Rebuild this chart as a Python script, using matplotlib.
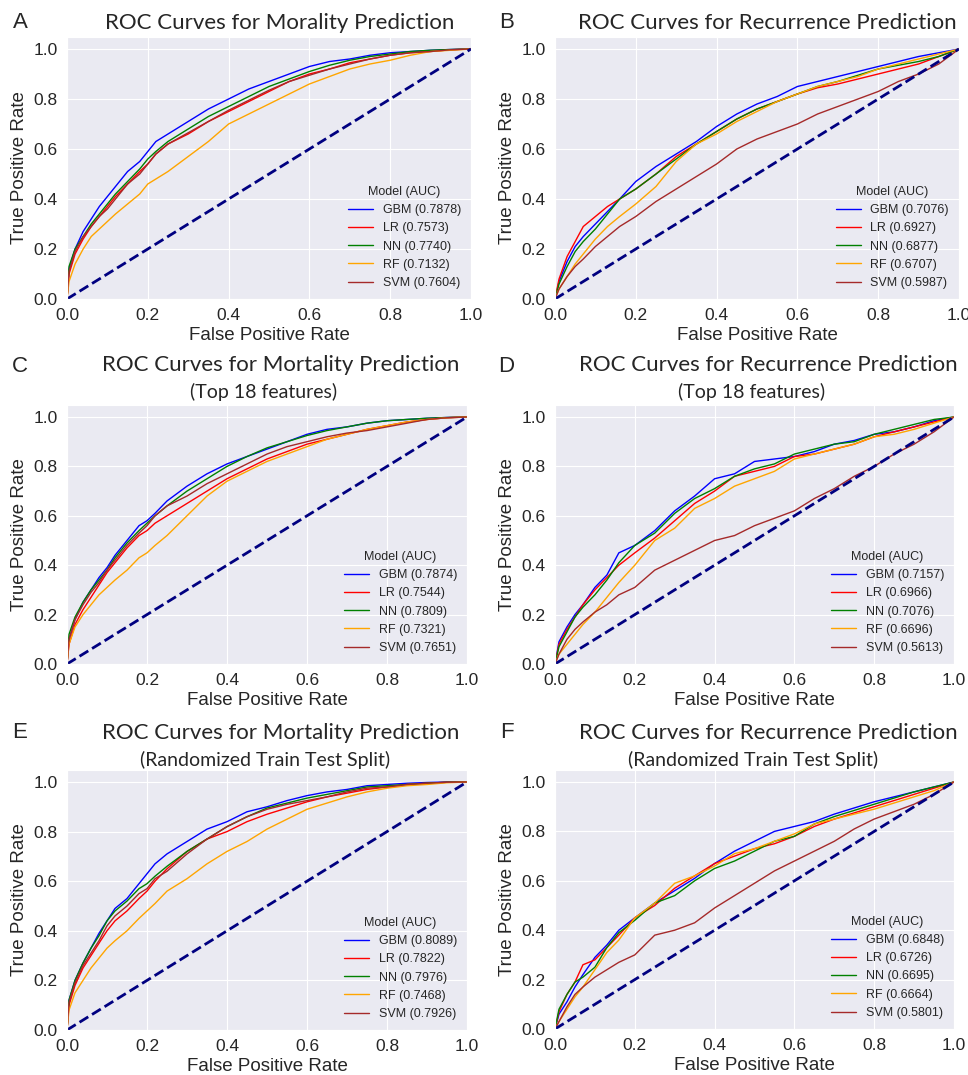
import numpy as np
import matplotlib
matplotlib.use("Agg")
import matplotlib.pyplot as plt
import seaborn as sns

sns.set_style("darkgrid")
plt.rcParams["font.family"] = ["Liberation Sans", "DejaVu Sans"]

models = ["GBM", "LR", "NN", "RF", "SVM"]
colors = ["blue", "red", "green", "orange", "brown"]

# FPR grids the curves were read at
fpr_mort = [0, 0.005, 0.02, 0.04, 0.06, 0.08, 0.1, 0.12, 0.15, 0.18, 0.2, 0.22, 0.25, 0.3,
            0.35, 0.4, 0.45, 0.5, 0.55, 0.6, 0.65, 0.7, 0.75, 0.8, 0.85, 0.9, 0.95, 1.0]
fpr_rec = [0, 0.01, 0.03, 0.05, 0.07, 0.1, 0.13, 0.16, 0.2, 0.25, 0.3, 0.35, 0.4, 0.45,
           0.5, 0.55, 0.6, 0.65, 0.7, 0.75, 0.8, 0.85, 0.9, 0.95, 1.0]

# Panel A - mortality
tpr_a_gbm = [0, 0.12, 0.20, 0.27, 0.32, 0.37, 0.41, 0.45, 0.51, 0.55, 0.59, 0.63, 0.66, 0.71, 0.76, 0.80, 0.84, 0.87, 0.90, 0.93, 0.95, 0.96, 0.975, 0.985, 0.99, 0.995, 0.998, 1]
tpr_a_lr = [0, 0.10, 0.18, 0.24, 0.29, 0.33, 0.37, 0.41, 0.46, 0.51, 0.54, 0.58, 0.62, 0.66, 0.71, 0.75, 0.79, 0.83, 0.87, 0.90, 0.92, 0.945, 0.96, 0.975, 0.985, 0.99, 0.997, 1]
tpr_a_nn = [0, 0.13, 0.20, 0.25, 0.30, 0.34, 0.38, 0.42, 0.47, 0.52, 0.56, 0.59, 0.63, 0.68, 0.73, 0.77, 0.81, 0.85, 0.88, 0.91, 0.935, 0.955, 0.97, 0.98, 0.99, 0.995, 0.998, 1]
tpr_a_rf = [0, 0.07, 0.14, 0.20, 0.25, 0.28, 0.31, 0.34, 0.38, 0.42, 0.46, 0.48, 0.51, 0.57, 0.63, 0.70, 0.74, 0.78, 0.82, 0.86, 0.89, 0.92, 0.94, 0.955, 0.975, 0.99, 0.995, 1]
tpr_a_svm = [0, 0.11, 0.19, 0.25, 0.29, 0.33, 0.36, 0.40, 0.46, 0.50, 0.54, 0.58, 0.62, 0.665, 0.71, 0.755, 0.795, 0.835, 0.87, 0.895, 0.92, 0.94, 0.96, 0.975, 0.985, 0.99, 0.997, 1]
auc_a = [0.7878, 0.7573, 0.7740, 0.7132, 0.7604]

# Panel B - recurrence
tpr_b_gbm = [0, 0.07, 0.15, 0.21, 0.25, 0.30, 0.35, 0.40, 0.47, 0.53, 0.58, 0.63, 0.69, 0.74, 0.78, 0.81, 0.85, 0.87, 0.89, 0.91, 0.93, 0.95, 0.97, 0.985, 1]
tpr_b_lr = [0, 0.08, 0.17, 0.23, 0.29, 0.33, 0.37, 0.40, 0.44, 0.50, 0.57, 0.62, 0.67, 0.72, 0.76, 0.79, 0.82, 0.845, 0.86, 0.88, 0.90, 0.92, 0.94, 0.97, 1]
tpr_b_nn = [0, 0.06, 0.13, 0.19, 0.23, 0.28, 0.34, 0.40, 0.44, 0.50, 0.56, 0.62, 0.67, 0.72, 0.76, 0.79, 0.82, 0.85, 0.87, 0.895, 0.92, 0.935, 0.95, 0.97, 1]
tpr_b_rf = [0, 0.04, 0.09, 0.14, 0.18, 0.24, 0.29, 0.33, 0.38, 0.45, 0.55, 0.62, 0.66, 0.71, 0.75, 0.79, 0.82, 0.85, 0.87, 0.89, 0.92, 0.94, 0.96, 0.98, 1]
tpr_b_svm = [0, 0.04, 0.09, 0.13, 0.16, 0.21, 0.25, 0.29, 0.33, 0.39, 0.44, 0.49, 0.54, 0.60, 0.64, 0.67, 0.70, 0.74, 0.77, 0.80, 0.83, 0.87, 0.90, 0.94, 1]
auc_b = [0.7076, 0.6927, 0.6877, 0.6707, 0.5987]

# Panel C - mortality, top 18 features
tpr_c_gbm = [0, 0.10, 0.18, 0.25, 0.30, 0.35, 0.39, 0.44, 0.50, 0.56, 0.58, 0.61, 0.66, 0.72, 0.77, 0.81, 0.84, 0.87, 0.90, 0.93, 0.95, 0.96, 0.975, 0.985, 0.99, 0.995, 0.998, 1]
tpr_c_lr = [0, 0.08, 0.16, 0.22, 0.27, 0.32, 0.37, 0.41, 0.47, 0.52, 0.54, 0.57, 0.60, 0.65, 0.70, 0.75, 0.79, 0.83, 0.86, 0.89, 0.91, 0.93, 0.95, 0.965, 0.98, 0.99, 0.997, 1]
tpr_c_nn = [0, 0.12, 0.19, 0.25, 0.30, 0.34, 0.38, 0.43, 0.49, 0.54, 0.57, 0.60, 0.64, 0.70, 0.75, 0.80, 0.84, 0.875, 0.90, 0.925, 0.945, 0.96, 0.975, 0.985, 0.99, 0.995, 0.998, 1]
tpr_c_rf = [0, 0.08, 0.15, 0.20, 0.24, 0.28, 0.31, 0.34, 0.38, 0.43, 0.45, 0.48, 0.52, 0.60, 0.68, 0.74, 0.78, 0.82, 0.85, 0.88, 0.91, 0.93, 0.95, 0.965, 0.98, 0.99, 0.997, 1]
tpr_c_svm = [0, 0.10, 0.18, 0.24, 0.29, 0.33, 0.38, 0.42, 0.48, 0.53, 0.56, 0.60, 0.64, 0.68, 0.73, 0.77, 0.81, 0.85, 0.88, 0.90, 0.92, 0.935, 0.945, 0.96, 0.975, 0.99, 0.997, 1]
auc_c = [0.7874, 0.7544, 0.7809, 0.7321, 0.7651]

# Panel D - recurrence, top 18 features
tpr_d_gbm = [0, 0.09, 0.15, 0.20, 0.24, 0.31, 0.36, 0.45, 0.48, 0.54, 0.62, 0.68, 0.75, 0.77, 0.82, 0.83, 0.84, 0.86, 0.89, 0.905, 0.93, 0.94, 0.96, 0.985, 1]
tpr_d_lr = [0, 0.08, 0.14, 0.19, 0.24, 0.30, 0.35, 0.40, 0.45, 0.51, 0.58, 0.65, 0.70, 0.76, 0.78, 0.80, 0.84, 0.85, 0.87, 0.89, 0.92, 0.94, 0.96, 0.98, 1]
tpr_d_nn = [0, 0.07, 0.13, 0.19, 0.23, 0.28, 0.34, 0.41, 0.48, 0.53, 0.61, 0.67, 0.71, 0.76, 0.79, 0.81, 0.85, 0.87, 0.89, 0.90, 0.93, 0.95, 0.97, 0.99, 1]
tpr_d_rf = [0, 0.04, 0.08, 0.12, 0.16, 0.21, 0.27, 0.33, 0.40, 0.50, 0.55, 0.63, 0.67, 0.72, 0.75, 0.78, 0.83, 0.85, 0.87, 0.89, 0.92, 0.93, 0.95, 0.975, 1]
tpr_d_svm = [0, 0.04, 0.10, 0.14, 0.17, 0.21, 0.24, 0.28, 0.31, 0.38, 0.42, 0.46, 0.50, 0.52, 0.56, 0.59, 0.62, 0.67, 0.71, 0.76, 0.80, 0.85, 0.89, 0.94, 1]
auc_d = [0.7157, 0.6966, 0.7076, 0.6696, 0.5613]

# Panel E - mortality, randomized split
tpr_e_gbm = [0, 0.12, 0.20, 0.27, 0.33, 0.39, 0.44, 0.49, 0.53, 0.59, 0.63, 0.67, 0.71, 0.76, 0.81, 0.84, 0.88, 0.90, 0.925, 0.945, 0.96, 0.97, 0.985, 0.99, 0.995, 0.998, 1, 1]
tpr_e_lr = [0, 0.10, 0.18, 0.25, 0.30, 0.35, 0.40, 0.44, 0.48, 0.53, 0.56, 0.60, 0.65, 0.72, 0.77, 0.80, 0.84, 0.87, 0.895, 0.92, 0.94, 0.955, 0.97, 0.98, 0.99, 0.995, 0.999, 1]
tpr_e_nn = [0, 0.12, 0.20, 0.27, 0.33, 0.38, 0.44, 0.48, 0.52, 0.57, 0.59, 0.62, 0.66, 0.72, 0.77, 0.82, 0.86, 0.895, 0.915, 0.935, 0.95, 0.965, 0.98, 0.985, 0.99, 0.995, 0.999, 1]
tpr_e_rf = [0, 0.08, 0.15, 0.20, 0.25, 0.29, 0.33, 0.36, 0.40, 0.45, 0.48, 0.51, 0.56, 0.61, 0.67, 0.72, 0.76, 0.81, 0.85, 0.89, 0.915, 0.94, 0.96, 0.975, 0.985, 0.99, 0.997, 1]
tpr_e_svm = [0, 0.11, 0.19, 0.26, 0.31, 0.36, 0.42, 0.46, 0.50, 0.55, 0.57, 0.61, 0.64, 0.71, 0.77, 0.82, 0.86, 0.89, 0.91, 0.925, 0.94, 0.96, 0.975, 0.98, 0.99, 0.995, 0.999, 1]
auc_e = [0.8089, 0.7822, 0.7976, 0.7468, 0.7926]

# Panel F - recurrence, randomized split
tpr_f_gbm = [0, 0.06, 0.11, 0.17, 0.22, 0.29, 0.34, 0.40, 0.45, 0.51, 0.56, 0.61, 0.67, 0.72, 0.76, 0.80, 0.82, 0.84, 0.87, 0.895, 0.92, 0.94, 0.96, 0.98, 1]
tpr_f_lr = [0, 0.07, 0.14, 0.19, 0.26, 0.28, 0.33, 0.38, 0.45, 0.50, 0.57, 0.62, 0.67, 0.70, 0.73, 0.75, 0.78, 0.82, 0.85, 0.875, 0.90, 0.925, 0.95, 0.975, 1]
tpr_f_nn = [0, 0.08, 0.14, 0.19, 0.21, 0.25, 0.33, 0.39, 0.44, 0.51, 0.54, 0.60, 0.65, 0.68, 0.72, 0.76, 0.78, 0.83, 0.86, 0.885, 0.91, 0.935, 0.96, 0.98, 1]
tpr_f_rf = [0, 0.03, 0.08, 0.13, 0.17, 0.24, 0.31, 0.36, 0.45, 0.51, 0.59, 0.62, 0.66, 0.71, 0.73, 0.76, 0.79, 0.83, 0.85, 0.87, 0.89, 0.915, 0.94, 0.965, 1]
tpr_f_svm = [0, 0.03, 0.09, 0.14, 0.17, 0.21, 0.24, 0.27, 0.30, 0.38, 0.40, 0.43, 0.49, 0.54, 0.59, 0.64, 0.68, 0.72, 0.76, 0.81, 0.85, 0.88, 0.91, 0.95, 1]
auc_f = [0.6848, 0.6726, 0.6695, 0.6664, 0.5801]

W, H = 968, 1075
fig = plt.figure(figsize=(W / 100, H / 100), dpi=100)


def add_panel(left, right, y0, y1):
    # pixel coords: y0 = pixel row of TPR 0, y1 = pixel row of TPR 1.0
    top = y1 - 0.05 * (y0 - y1)
    return fig.add_axes([left / W, 1 - y0 / H, (right - left) / W, (y0 - top) / H])


panels = [
    ("A", (67, 471, 299, 49), fpr_mort, [tpr_a_gbm, tpr_a_lr, tpr_a_nn, tpr_a_rf, tpr_a_svm], auc_a,
     "ROC Curves for Morality Prediction", None, (20, 23), (280, 23), None),
    ("B", (555, 959, 299, 49), fpr_rec, [tpr_b_gbm, tpr_b_lr, tpr_b_nn, tpr_b_rf, tpr_b_svm], auc_b,
     "ROC Curves for Recurrence Prediction", None, (507, 23), (767, 23), None),
    ("C", (67, 467, 664, 417), fpr_mort, [tpr_c_gbm, tpr_c_lr, tpr_c_nn, tpr_c_rf, tpr_c_svm], auc_c,
     "ROC Curves for Mortality Prediction", "(Top 18 features)", (20, 366), (281, 365), (264, 392)),
    ("D", (555, 954, 664, 417), fpr_rec, [tpr_d_gbm, tpr_d_lr, tpr_d_nn, tpr_d_rf, tpr_d_svm], auc_d,
     "ROC Curves for Recurrence Prediction", "(Top 18 features)", (506, 366), (768, 365), (752, 392)),
    ("E", (67, 467, 1030, 782), fpr_mort, [tpr_e_gbm, tpr_e_lr, tpr_e_nn, tpr_e_rf, tpr_e_svm], auc_e,
     "ROC Curves for Mortality Prediction", "(Randomized Train Test Split)", (20, 733), (281, 733), (265, 760)),
    ("F", (555, 954, 1029, 782), fpr_rec, [tpr_f_gbm, tpr_f_lr, tpr_f_nn, tpr_f_rf, tpr_f_svm], auc_f,
     "ROC Curves for Recurrence Prediction", "(Randomized Train Test Split)", (507, 733), (768, 733), (753, 760)),
]

for letter, box, fpr, tprs, aucs, title, subtitle, lpos, tpos, spos in panels:
    ax = add_panel(*box)
    for name, col, tpr, auc in zip(models, colors, tprs, aucs):
        ax.plot(fpr, tpr, color=col, lw=1.0, label=f"{name} ({auc:.4f})")
    ax.plot([0, 1], [0, 1], color="navy", lw=2, ls="--")
    ax.set_xlim(0.0, 1.0)
    ax.set_ylim(0.0, 1.05)
    ax.set_xticks([0, 0.2, 0.4, 0.6, 0.8, 1.0])
    ax.set_yticks([0, 0.2, 0.4, 0.6, 0.8, 1.0])
    ax.tick_params(labelsize=12.5, pad=3, colors="#262626")
    ax.set_xlabel("False Positive Rate", fontsize=13.5, color="#262626", labelpad=3)
    ax.set_ylabel("True Positive Rate", fontsize=13.5, color="#262626", labelpad=4)
    ax.legend(title="Model (AUC)", loc="lower right", fontsize=9, title_fontsize=9,
              frameon=False, borderaxespad=0.4)
    fig.text(lpos[0] / W, 1 - lpos[1] / H, letter, fontsize=16, ha="center", va="center")
    fig.text(tpos[0] / W, 1 - tpos[1] / H, title, fontsize=16, ha="center", va="center",
             family=["Lato", "DejaVu Sans"])
    if subtitle:
        fig.text(spos[0] / W, 1 - spos[1] / H, subtitle, fontsize=14, ha="center", va="center",
                 family=["Lato", "DejaVu Sans"])

fig.savefig("out.png", dpi=100)
